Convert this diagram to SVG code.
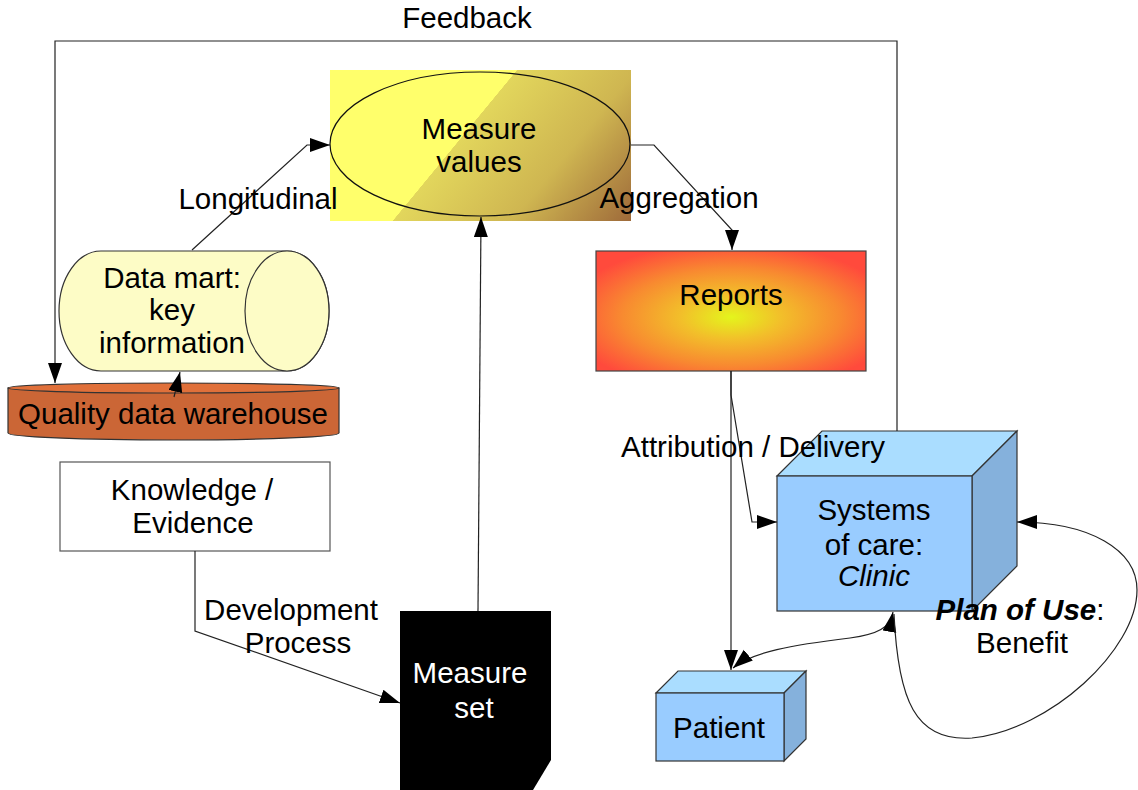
<svg xmlns="http://www.w3.org/2000/svg" width="1138" height="790" viewBox="0 0 1138 790">
  <style>
    text { font-family: "Liberation Sans", Arial, sans-serif; font-size: 29.5px; fill: #000; }
    .c { text-anchor: middle; }
    .w { fill: #fff; }
    .line { fill: none; stroke: #222; stroke-width: 1.2; }
    .edge { stroke: #333; stroke-width: 1.2; }
    .front { fill: #99ccff; }
    .top { fill: #aaddff; }
    .side { fill: #85b1dc; }
  </style>
  <defs>
    <marker id="arr" markerUnits="userSpaceOnUse" markerWidth="22" markerHeight="16" refX="20" refY="7" orient="auto-start-reverse" viewBox="0 0 22 16">
      <path d="M0,0 L20,7 L0,14 Z" fill="#000"/>
    </marker>
    <linearGradient id="gValues" gradientUnits="userSpaceOnUse" x1="455" y1="145" x2="597" y2="262">
      <stop offset="0" stop-color="#ffff6b"/>
      <stop offset="0.002" stop-color="#e2d65c"/>
      <stop offset="0.5" stop-color="#cfb651"/>
      <stop offset="1" stop-color="#9e6a3a"/>
    </linearGradient>
    <radialGradient id="gReports" cx="0.5" cy="0.55" r="0.62">
      <stop offset="0" stop-color="#e4f51c"/>
      <stop offset="0.3" stop-color="#f2bf2a"/>
      <stop offset="0.65" stop-color="#f88a30"/>
      <stop offset="1" stop-color="#ff4a3c"/>
    </radialGradient>
  </defs>

  <!-- measure values -->
  <g id="measure-values">
    <rect x="330" y="70" width="301" height="151" fill="url(#gValues)"/>
    <ellipse cx="480" cy="144" rx="150" ry="72" fill="none" stroke="#111" stroke-width="1.2"/>
    <text class="c" x="479" y="139">Measure</text>
    <text class="c" x="479" y="172">values</text>
  </g>

  <!-- data mart (horizontal cylinder) -->
  <g id="data-mart">
    <path class="edge" fill="#fdfcc6" d="M101,251 L287,251 A42,60 0 0 1 287,371 L101,371 A42,60 0 0 1 101,251 Z"/>
    <ellipse class="edge" fill="#fdfcc6" cx="287" cy="311" rx="42" ry="60"/>
    <text class="c" x="172" y="288">Data mart:</text>
    <text class="c" x="172" y="320">key</text>
    <text class="c" x="172" y="353">information</text>
  </g>

  <!-- warehouse (flat cylinder) -->
  <g id="warehouse">
    <path class="edge" fill="#cb6636" d="M8,388 L8,433 A165.5,7 0 0 0 339,433 L339,388 Z"/>
    <ellipse class="edge" fill="#e0703a" cx="173.5" cy="388" rx="165.5" ry="5"/>
    <text class="c" x="173" y="424">Quality data warehouse</text>
  </g>

  <!-- knowledge -->
  <g id="knowledge">
    <rect x="60" y="462" width="270" height="89" fill="#fff" stroke="#555" stroke-width="1.2"/>
    <text class="c" x="192" y="500">Knowledge /</text>
    <text class="c" x="193" y="533">Evidence</text>
  </g>

  <!-- measure set -->
  <g id="measure-set">
    <polygon points="400,611 551,611 551,760 533,790 400,790" fill="#000"/>
    <text class="c w" x="470" y="683">Measure</text>
    <text class="c w" x="474" y="718">set</text>
  </g>

  <!-- reports -->
  <g id="reports">
    <rect x="596" y="251" width="270" height="120" fill="url(#gReports)" stroke="#444" stroke-width="1.2"/>
    <text class="c" x="731" y="305">Reports</text>
  </g>

  <!-- systems of care (cube) -->
  <g id="systems-of-care">
    <polygon class="top edge" points="777,476 972,476 1017,431 822,431"/>
    <polygon class="side edge" points="972,476 1017,431 1017,566 972,611"/>
    <rect class="front edge" x="777" y="476" width="195" height="135"/>
    <text class="c" x="874" y="520">Systems</text>
    <text class="c" x="874" y="555">of care:</text>
    <text class="c" x="874" y="586" font-style="italic">Clinic</text>
  </g>

  <!-- patient (cube) -->
  <g id="patient">
    <polygon class="top edge" points="656,693 784,693 806,671 678,671"/>
    <polygon class="side edge" points="784,693 806,671 806,739 784,761"/>
    <rect class="front edge" x="656" y="693" width="128" height="68"/>
    <text class="c" x="719" y="738">Patient</text>
  </g>

  <!-- connectors and their labels -->
  <g id="connectors">
    <polyline class="line" points="897,431 897,41 55,41 55,383" marker-end="url(#arr)"/>
    <polyline class="line" points="192,250 307,145 330,145" marker-end="url(#arr)"/>
    <polyline class="line" points="631,145 654,145 732,230 732,250" marker-end="url(#arr)"/>
    <line class="line" x1="478" y1="611" x2="481" y2="217" marker-end="url(#arr)"/>
    <line class="line" x1="174" y1="397" x2="180" y2="372" marker-end="url(#arr)"/>
    <polyline class="line" points="195,551 195,631 400,703" marker-end="url(#arr)"/>
    <line class="line" x1="731" y1="371" x2="731" y2="670" marker-end="url(#arr)"/>
    <polyline class="line" points="731,371 731,395 752,522 777,522" marker-end="url(#arr)"/>
    <path class="line" d="M733,668 C752,652 792,645 850,638 C878,634 890,628 893,612" marker-start="url(#arr)" marker-end="url(#arr)"/>
    <path class="line" d="M894,614 C898,700 915,742 972,738 C1050,730 1137,650 1137,590 C1137,550 1090,522 1017,522" marker-end="url(#arr)"/>
    <text class="c" x="467" y="28">Feedback</text>
    <text class="c" x="258" y="209">Longitudinal</text>
    <text class="c" x="679" y="208">Aggregation</text>
    <text class="c" x="753" y="457">Attribution / Delivery</text>
    <text class="c" x="291" y="620">Development</text>
    <text class="c" x="298" y="653">Process</text>
    <text class="c" x="1020" y="620"><tspan font-weight="bold" font-style="italic">Plan of Use</tspan>:</text>
    <text class="c" x="1022" y="653">Benefit</text>
  </g>
</svg>
